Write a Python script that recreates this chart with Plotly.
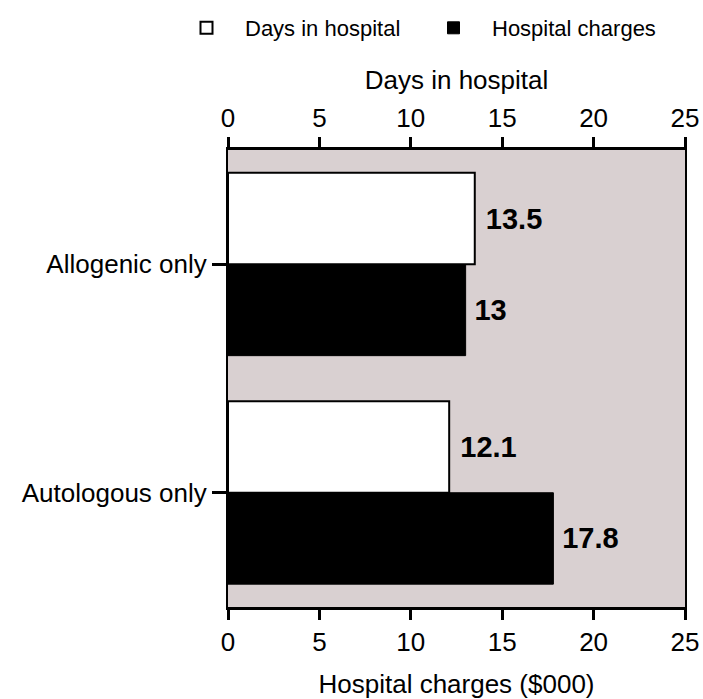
import plotly.graph_objects as go

categories = ["Allogenic only", "Autologous only"]
days_in_hospital = [13.5, 12.1]
hospital_charges = [13.0, 17.8]
tick_values = [0, 5, 10, 15, 20, 25]

FONT = "Liberation Sans, Arial, sans-serif"
BG = "#d9d0d1"
W, H = 703, 699
L, R, T, B = 228, 18, 150, 92

fig = go.Figure()

fig.add_trace(go.Bar(
    name="Days in hospital",
    y=categories, x=days_in_hospital, orientation="h",
    xaxis="x2", yaxis="y",
    offset=-0.4, width=0.4,
    marker=dict(color="white", line=dict(color="black", width=2)),
    text=days_in_hospital, texttemplate="\u00a0%{x}",
    textposition="outside", cliponaxis=False,
    textfont=dict(family=FONT, size=29, color="black", weight="bold"),
    legend="legend",
))
fig.add_trace(go.Bar(
    name="Hospital charges",
    y=categories, x=hospital_charges, orientation="h",
    xaxis="x", yaxis="y",
    offset=0.0, width=0.4,
    marker=dict(color="black", line=dict(color="black", width=1)),
    text=hospital_charges, texttemplate="\u2009%{x}",
    textposition="outside", cliponaxis=False,
    textfont=dict(family=FONT, size=29, color="black", weight="bold"),
    legend="legend2",
))

axis_common = dict(
    range=[0, 25], tickvals=tick_values, ticks="outside", ticklen=10,
    tickwidth=3, tickcolor="black", showline=True, linewidth=3,
    linecolor="black", showgrid=False, zeroline=False, automargin=False,
    ticklabeloverflow="allow",
    tickfont=dict(family=FONT, size=26, color="black"),
)

legend_common = dict(
    orientation="h", xref="container", xanchor="left",
    y=1 - 28 / H, yref="container", yanchor="middle",
    font=dict(family=FONT, size=22, color="black"),
    itemwidth=67, bgcolor="rgba(0,0,0,0)", borderwidth=0,
)

fig.update_layout(
    template="none",
    width=W, height=H,
    margin=dict(l=L, r=R, t=T, b=B),
    paper_bgcolor="white", plot_bgcolor=BG,
    font=dict(family=FONT, color="black"),
    xaxis=dict(**axis_common, side="bottom",
               title=dict(text="Hospital charges ($000)", standoff=20,
                          font=dict(family=FONT, size=26, color="black"))),
    xaxis2=dict(**axis_common, side="top", overlaying="x", anchor="y",
                title=dict(text="Days in hospital", standoff=6,
                           font=dict(family=FONT, size=26, color="black"))),
    yaxis=dict(range=[1.5, -0.5], showline=True, linewidth=2, linecolor="black",
               mirror=True, ticks="outside", ticklen=14, tickwidth=3,
               tickcolor="black", showgrid=False, zeroline=False,
               automargin=False,
               tickfont=dict(family=FONT, size=26, color="black")),
    showlegend=True,
    legend=dict(**legend_common, x=168 / W),
    legend2=dict(**legend_common, x=415 / W),
)

fig.write_html("out.html", config={"displayModeBar": False},
               post_script="document.body.style.margin='0';")
